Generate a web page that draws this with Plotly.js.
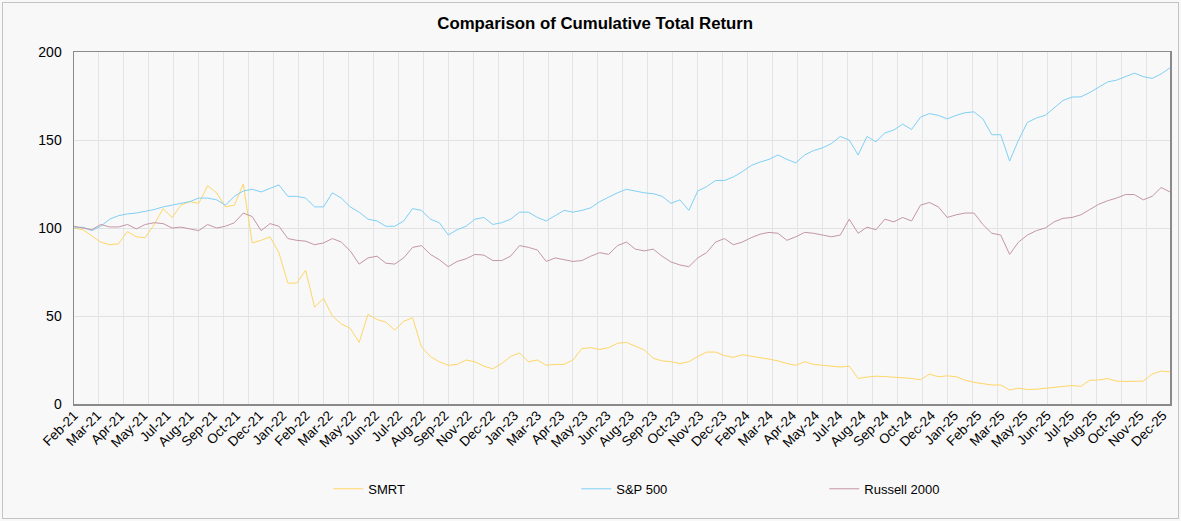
<!DOCTYPE html>
<html>
<head>
<meta charset="utf-8">
<script src="https://cdn.plot.ly/plotly-3.0.1.min.js"></script>
<style>
  html, body { margin: 0; padding: 0; background: #f8f8f8; }
  #wrap { position: relative; width: 1181px; height: 521px; }
  #chart { width: 1181px; height: 521px; }
  #frame { position: absolute; left: 2px; top: 2px; width: 1175px; height: 515px; border: 1px solid #c4c4c4; pointer-events: none; }
</style>
</head>
<body>
<div id="wrap"><div id="chart"></div><div id="frame"></div></div>
<script>
// Sampling: one value every STEP trading days, starting Feb-21
const STEP = 10;
const LABEL_EVERY = 26;   // trading days between category labels
const GRID_EVERY = 28;    // trading days between vertical gridlines

const tickLabels = ['Feb-21','Mar-21','Apr-21','May-21','Jul-21','Aug-21','Sep-21','Oct-21','Dec-21',
  'Jan-22','Feb-22','Mar-22','May-22','Jun-22','Jul-22','Aug-22','Sep-22','Nov-22','Dec-22',
  'Jan-23','Mar-23','Apr-23','May-23','Jun-23','Aug-23','Sep-23','Oct-23','Nov-23','Dec-23',
  'Feb-24','Mar-24','Apr-24','May-24','Jul-24','Aug-24','Sep-24','Oct-24','Dec-24',
  'Jan-25','Feb-25','Mar-25','May-25','Jun-25','Jul-25','Aug-25','Oct-25','Nov-25','Dec-25'];

const smrt = [
  100, 99, 95.5, 92, 90.5, 91, 98, 95, 94.5, 102,
  111, 106, 113, 115, 114, 124, 120, 112, 113, 125,
  91.5, 93, 95, 86, 68.7, 68.7, 76, 55, 60, 50,
  45.5, 43, 35, 51, 48, 46.5, 42, 47, 49, 32.4,
  27, 24, 22, 22.5, 25, 24, 21.5, 20, 23, 27,
  29, 24, 25, 22, 22.5, 22.5, 25, 31.5, 32, 31,
  32, 34.5, 35, 33, 30.7, 26, 24.5, 24, 23, 24,
  27, 29.5, 29.5, 27.5, 26.5, 28, 27, 26.3, 25.5, 24.5,
  23, 22, 24, 22.5, 22, 21.6, 21, 21.5, 14.5, 15.3,
  15.8, 15.6, 15.3, 15.2, 14.5, 13.8, 17, 15.5, 16, 15.5,
  13.5, 12.3, 11.6, 10.8, 10.8, 8, 9, 8.2, 8.4, 8.8,
  9.3, 10, 10.5, 10, 13.5, 13.6, 14.5, 13, 12.8, 12.8,
  13, 17, 18.7, 18.3
];

const sp500 = [
  100, 100.5, 98.5, 101, 105, 107, 108, 108.5, 109.5, 110.5,
  112, 113, 114, 115, 117, 117, 116, 113, 118, 121,
  122, 120.5, 122.5, 124.5, 118, 118, 117, 112, 112, 120,
  117, 112, 109, 105, 104, 101, 101, 104, 111, 110,
  105, 103, 96, 99, 101, 105, 106, 102, 103, 105,
  109, 109, 106, 104, 107, 110, 109, 110, 111.5, 115,
  117.5, 120, 122, 121, 120, 119.5, 118, 114, 116, 110,
  121, 123.5, 127, 127, 129, 132, 135.5, 137.5, 139, 141.5,
  139, 137, 141.5, 144, 145.5, 148, 152, 150, 141.5, 152,
  149, 154, 155.7, 159, 156, 163, 165, 164, 162, 164,
  165.5, 166, 162, 153, 153, 138, 150, 160, 162.5, 164,
  168, 172.5, 174.4, 174.5, 177, 180, 183, 184, 186, 188,
  186, 185, 187.5, 191
];

const russell = [
  101, 100, 99, 102, 100.6, 100.6, 102, 99.5, 102, 103,
  102.5, 100, 100.5, 99.5, 98.5, 102, 100, 101, 103, 108.5,
  106.5, 98.5, 102.5, 101, 94, 93, 92.5, 90.5, 91.5, 94,
  92, 87, 79.5, 83, 84, 80, 79.5, 83, 89, 90,
  85, 82, 78, 81, 82.5, 85, 84.6, 81.5, 81.5, 84,
  90, 89, 87.5, 81, 83, 82, 81, 81.5, 84, 86,
  85, 90, 92, 88, 87, 88, 84, 80.7, 79, 78,
  83, 86, 92, 94, 90.5, 92, 94.5, 96.5, 97.5, 97,
  93, 95, 97.5, 97, 96, 95, 96, 105, 97, 100.5,
  99, 105, 103.5, 106, 104, 113, 114.5, 112, 106, 107.5,
  108.5, 108.5, 102, 97, 96, 85, 92, 96, 98.5, 100,
  103.5, 105.5, 106, 107.5, 110.5, 113.5, 115.5, 117, 119, 119,
  116, 118, 123, 120.5
];

const seriesNames = ['SMRT', 'S&P 500', 'Russell 2000'];
const seriesColors = ['#ffd666', '#7fd0f5', '#c496a6'];
const seriesData = [smrt, sp500, russell];

const xs = smrt.map((_, i) => i);
const lastX = smrt.length - 1;
const tickvals = tickLabels.map((_, k) => k * LABEL_EVERY / STEP);

const traces = seriesData.map((arr, s) => ({
  x: xs, y: arr, type: 'scatter', mode: 'lines', name: seriesNames[s],
  line: { color: seriesColors[s], width: 1 }
}));
// empty helper trace so the label axis (x2) is instantiated
traces.push({ x: [], y: [], type: 'scatter', mode: 'lines', xaxis: 'x2', yaxis: 'y', showlegend: false, hoverinfo: 'skip' });

const FONT = 'Liberation Sans, Arial, sans-serif';

const layout = {
  width: 1181, height: 521,
  paper_bgcolor: '#f8f8f8', plot_bgcolor: '#f8f8f8',
  margin: { l: 74, r: 11, t: 52, b: 117 },
  font: { family: FONT, color: '#000' },
  title: { text: '<b>Comparison of Cumulative Total Return</b>', font: { size: 16.8, family: FONT, color: '#000' },
           x: 0.504, xref: 'container', xanchor: 'center', y: 0.956, yref: 'container', yanchor: 'middle' },
  showlegend: true,
  legend: { orientation: 'h', x: 0.232, xanchor: 'left', y: -0.241, yanchor: 'middle',
            entrywidth: 203, entrywidthmode: 'pixels', font: { size: 13, family: FONT, color: '#000' },
            bgcolor: 'rgba(0,0,0,0)', traceorder: 'normal' },
  xaxis: {
    range: [0, lastX], tickmode: 'linear', tick0: 0, dtick: GRID_EVERY / STEP,
    showticklabels: false, showgrid: true, gridcolor: '#e2e5e7', gridwidth: 1,
    zeroline: false, ticks: '',
    showline: true, mirror: true, linecolor: '#8a8a8a', linewidth: 1.5,
    fixedrange: true
  },
  xaxis2: {
    overlaying: 'x', anchor: 'y', side: 'bottom',
    range: [0, lastX], tickmode: 'array', tickvals: tickvals, ticktext: tickLabels,
    tickangle: -45, tickfont: { size: 13.5, family: FONT, color: '#000' },
    showgrid: false, zeroline: false, ticks: '', showline: false,
    fixedrange: true
  },
  yaxis: {
    range: [0, 200], tickmode: 'linear', tick0: 0, dtick: 50,
    tickfont: { size: 14, family: FONT, color: '#000' },
    showgrid: true, gridcolor: '#e2e2e2', gridwidth: 1, zeroline: false, ticks: '',
    ticklabelstandoff: 8,
    showline: true, mirror: true, linecolor: '#8a8a8a', linewidth: 1.5,
    fixedrange: true
  }
};

Plotly.newPlot('chart', traces, layout, { displayModeBar: false, staticPlot: true });
</script>
</body>
</html>
